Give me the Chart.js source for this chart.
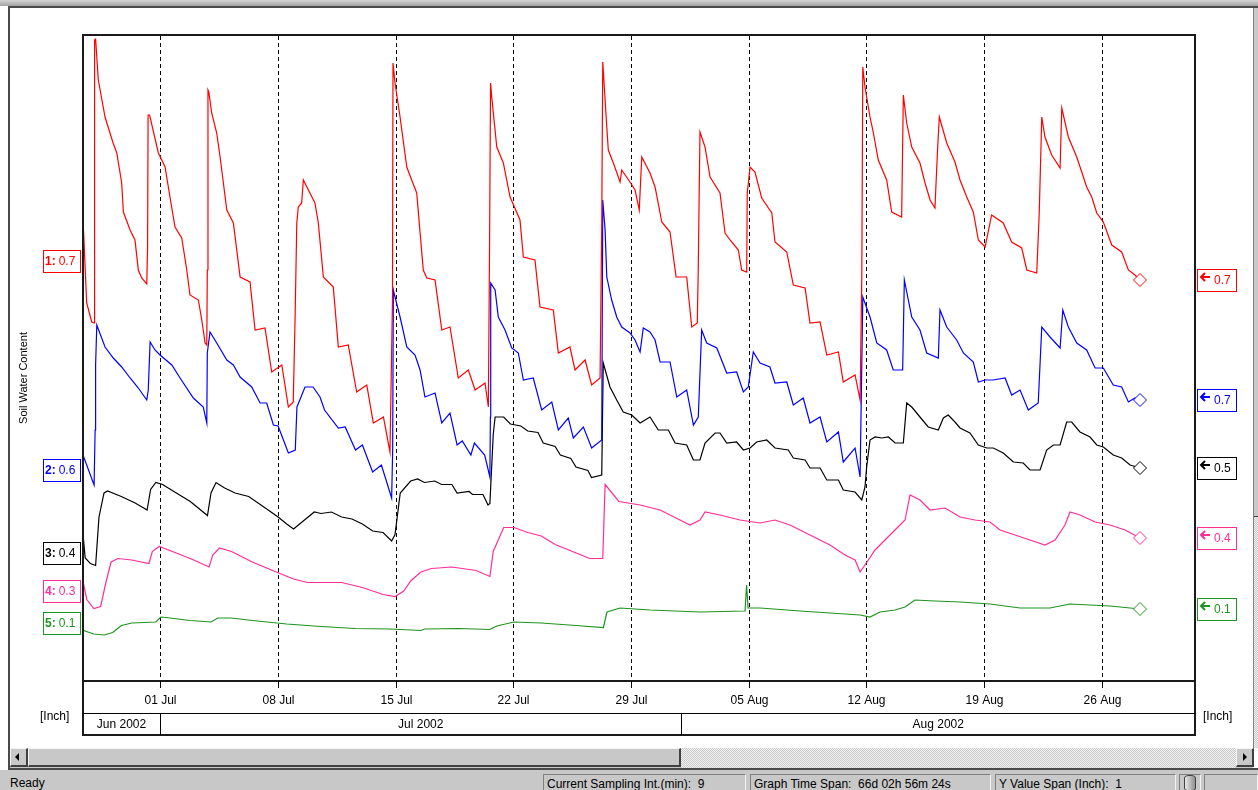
<!DOCTYPE html>
<html>
<head>
<meta charset="utf-8">
<title>Soil Water Content</title>
<script src="https://cdn.jsdelivr.net/npm/chart.js@4.4.1/dist/chart.umd.min.js"></script>
<style>
  html, body { margin: 0; padding: 0; }
  body { width: 1258px; height: 790px; position: relative; overflow: hidden; background: #fff;
         font: 12px "Liberation Sans", Arial, sans-serif; color: #000; }
  #top { position: absolute; left: 0; top: 0; width: 1258px; height: 6px; background: linear-gradient(#d6d6d6, #a2a2a2); }
  #topline { position: absolute; left: 9px; top: 6px; width: 1249px; height: 2px; background: #4a4a4a; }
  #leftline { position: absolute; left: 8px; top: 6px; width: 2px; height: 764px; background: #4a4a4a; }
  #vscroll { position: absolute; left: 1253px; top: 8px; width: 5px; height: 740px;
             background: repeating-conic-gradient(#c8c8c8 0 25%, #f4f4f4 0 50%) 0 0 / 2px 2px; border-left: 1px solid #808080; }
  #vthumb { position: absolute; left: 0; top: 0; width: 5px; height: 508px; background: #c8c8c8; border-bottom: 1px solid #404040; }
  #hscroll { position: absolute; left: 10px; top: 748px; width: 1243px; height: 20px; background: #c8c8c8; }
  .btn { position: absolute; top: 0; width: 15px; height: 16px; background: #c8c8c8;
         border-top: 1px solid #f4f4f4; border-left: 1px solid #f4f4f4; border-right: 2px solid #404040; border-bottom: 2px solid #404040; }
  #lb { left: 0; }
  #rb { left: 1226px; }
  .tri-l { position: absolute; left: 4px; top: 4px; width: 0; height: 0; border-top: 4px solid transparent; border-bottom: 4px solid transparent; border-right: 4px solid #000; }
  .tri-r { position: absolute; left: 6px; top: 4px; width: 0; height: 0; border-top: 4px solid transparent; border-bottom: 4px solid transparent; border-left: 4px solid #000; }
  #thumb { position: absolute; left: 18px; top: 0; width: 650px; height: 16px; background: #c8c8c8;
           border-top: 1px solid #f4f4f4; border-left: 1px solid #f4f4f4; border-right: 2px solid #404040; border-bottom: 2px solid #404040; }
  #track { position: absolute; left: 671px; top: 0; width: 555px; height: 20px;
           background: repeating-conic-gradient(#c8c8c8 0 25%, #f4f4f4 0 50%) 0 0 / 2px 2px; }
  #bottomline { position: absolute; left: 8px; top: 768px; width: 1250px; height: 2px; background: #4a4a4a; }
  #status { position: absolute; left: 0; top: 770px; width: 1258px; height: 20px; background: #c8c8c8; }
  #ready { position: absolute; left: 10px; top: 6px; }
  .panel { position: absolute; top: 4px; height: 18px; padding-left: 3px; line-height: 18px; white-space: pre;
           border-top: 1px solid #808080; border-left: 1px solid #808080; border-right: 1px solid #f4f4f4; box-sizing: border-box; }
  #db { position: absolute; left: 1184px; top: 5px; width: 10px; height: 14px; border: 1px solid #404040;
        border-radius: 5px / 3px; background: linear-gradient(90deg, #e8e8e8, #909090); }
  #chart { position: absolute; left: 0; top: 0; }
</style>
</head>
<body>
<div id="top"></div>
<div id="topline"></div>
<div id="leftline"></div>
<div id="vscroll"><div id="vthumb"></div></div>
<div id="hscroll">
  <div class="btn" id="lb"><span class="tri-l"></span></div>
  <div id="thumb"></div>
  <div id="track"></div>
  <div class="btn" id="rb"><span class="tri-r"></span></div>
</div>
<div id="bottomline"></div>
<div id="status">
  <span id="ready">Ready</span>
  <div class="panel" style="left:543px;width:203px">Current Sampling Int.(min):  9</div>
  <div class="panel" style="left:750px;width:241px">Graph Time Span:  66d 02h 56m 24s</div>
  <div class="panel" style="left:995px;width:181px">Y Value Span (Inch):  1</div>
  <div class="panel" style="left:1179px;width:22px"></div>
  <div id="db"></div>
  <div class="panel" style="left:1204px;width:54px"></div>
</div>
<canvas id="chart" width="1258" height="790"></canvas>
<script>
/* x = days since 01 Jul 2002, y = position inside the 1 inch display span */
const xMin = -4.58;
const xMax = 61.53;
const yMin = 0;
const yMax = 1.292;

const tickDays = [0, 7, 14, 21, 28, 35, 42, 49, 56];
const tickLabels = ['01 Jul', '08 Jul', '15 Jul', '22 Jul', '29 Jul', '05 Aug', '12 Aug', '19 Aug', '26 Aug'];
const monthEdges = [xMin, 0, 31, xMax];
const monthLabels = ['Jun 2002', 'Jul 2002', 'Aug 2002'];

const seriesNo = ['1', '2', '3', '4', '5'];
const startValues = ['0.7', '0.6', '0.4', '0.3', '0.1'];
const endValues = ['0.7', '0.7', '0.5', '0.4', '0.1'];
const colors = ['#ff0000', '#0000ff', '#000000', '#ff2d96', '#1f931f'];

const redDays = [-4.55,-4.36,-4.06,-3.92,-3.89,-3.83,-3.67,-3.27,-2.79,-2.57,
  -2.28,-2.18,-1.78,-1.49,-1.29,-1.09,-0.79,-0.74,-0.71,-0.62,
  -0.10,0.30,0.59,0.89,1.29,1.59,1.78,2.28,2.48,2.68,
  2.78,2.81,2.85,2.90,3.07,3.37,3.57,3.97,4.36,4.76,
  5.35,5.65,6.24,6.64,7.24,7.63,7.92,8.03,8.13,8.22,
  8.42,8.52,9.21,9.41,9.71,10.30,10.60,11.19,11.69,12.29,
  12.68,13.28,13.67,13.82,13.85,13.97,14.27,14.67,14.96,15.26,
  15.65,15.86,16.35,16.75,17.24,17.73,18.33,18.73,19.32,19.52,
  19.59,19.65,19.72,20.02,20.41,20.81,21.40,21.60,22.29,22.59,
  23.38,23.68,24.37,24.67,25.27,25.66,26.16,26.26,26.32,26.56,
  26.65,26.95,27.35,27.45,27.94,28.24,28.49,28.64,29.13,29.43,
  29.83,30.32,30.68,31.31,31.61,31.94,32.00,32.10,32.40,32.70,
  33.29,33.59,33.89,34.38,34.58,34.88,34.91,35.08,35.37,35.77,
  36.37,36.56,37.26,37.65,38.35,38.64,39.24,39.64,40.33,40.62,
  41.32,41.62,41.72,41.78,41.91,42.21,42.41,42.70,43.20,43.50,
  44.09,44.19,44.39,44.69,45.18,45.48,45.78,46.07,46.21,46.33,
  46.77,47.26,47.56,47.96,48.35,48.65,49.05,49.44,50.13,50.63,
  51.23,51.53,52.12,52.27,52.42,52.61,53.01,53.51,53.61,54.00,
  54.50,55.09,55.39,55.69,56.08,56.58,57.17,57.57,57.96,58.26];
const redVals = [0.902,0.756,0.718,0.716,1.282,1.284,1.202,1.128,1.076,1.056,
  0.996,0.938,0.902,0.882,0.822,0.806,0.794,0.868,1.132,1.132,
  1.056,1.028,0.968,0.908,0.886,0.822,0.772,0.762,0.722,0.676,
  0.672,0.822,1.182,1.178,1.136,1.096,1.048,0.942,0.916,0.808,
  0.798,0.702,0.706,0.618,0.632,0.548,0.558,0.728,0.916,0.948,
  0.956,1.002,0.956,0.916,0.808,0.788,0.668,0.672,0.578,0.592,
  0.516,0.528,0.458,0.762,1.236,1.196,1.128,1.028,1.002,0.976,
  0.822,0.806,0.802,0.702,0.708,0.606,0.622,0.582,0.596,0.548,
  0.868,1.196,1.168,1.068,1.036,0.968,0.922,0.848,0.842,0.748,
  0.742,0.656,0.668,0.622,0.642,0.592,0.606,0.912,1.238,1.108,
  1.062,1.036,0.998,1.022,0.998,0.982,0.942,1.048,1.016,0.988,
  0.918,0.898,0.808,0.808,0.708,0.716,0.828,1.098,1.068,1.008,
  0.976,0.896,0.882,0.862,0.822,0.818,0.976,1.028,1.018,0.966,
  0.936,0.878,0.858,0.792,0.786,0.716,0.718,0.652,0.658,0.598,
  0.612,0.562,0.808,1.228,1.188,1.128,1.096,1.042,1.002,0.938,
  0.928,1.172,1.116,1.068,1.036,0.996,0.962,0.946,1.052,1.128,
  1.076,1.038,1.002,0.968,0.938,0.882,0.868,0.932,0.916,0.878,
  0.866,0.822,0.816,0.936,1.128,1.088,1.052,1.026,1.146,1.088,
  1.048,0.988,0.968,0.936,0.918,0.872,0.858,0.822,0.812,0.802];

const blueDays = [-4.55,-3.92,-3.86,-3.83,-3.76,-3.27,-2.78,-2.28,-1.78,-1.29,
  -0.79,-0.70,-0.59,-0.30,0,0.70,1.19,1.98,2.57,2.78,
  2.81,2.97,3.37,3.97,4.36,4.76,5.45,5.95,6.34,6.74,
  7.02,7.63,8.04,8.14,8.62,9.10,9.51,9.78,10.60,11.01,
  11.62,12.03,12.64,13.16,13.77,13.83,13.87,13.97,14.27,14.67,
  15.16,15.46,15.75,16.35,16.75,17.24,17.66,17.97,18.48,18.69,
  19.30,19.61,19.64,19.66,19.92,20.11,20.51,20.91,21.30,21.60,
  22.19,22.69,23.29,23.68,24.27,24.57,25.17,25.66,26.26,26.32,
  26.46,26.56,26.85,27.15,27.45,27.94,28.24,28.54,28.73,29.13,
  29.43,29.73,30.32,30.72,31.31,31.71,32.00,32.20,32.50,33.10,
  33.69,34.28,34.68,34.97,35.27,35.67,36.26,36.56,37.26,37.65,
  38.24,38.64,39.24,39.64,40.33,40.62,41.32,41.62,41.78,42.21,
  42.61,43.20,43.59,44.15,44.25,44.69,45.18,45.58,46.27,46.37,
  46.77,47.36,47.76,48.35,48.65,49.05,49.54,50.24,50.63,51.13,
  51.62,52.21,52.42,52.91,53.51,53.67,54.00,54.50,55.09,55.59,
  56.08,56.67,57.17,57.57,57.96,58.26];
const blueVals = [0.449,0.392,0.502,0.632,0.712,0.668,0.646,0.628,0.606,0.586,
  0.562,0.582,0.678,0.662,0.652,0.632,0.606,0.566,0.548,0.516,
  0.656,0.698,0.676,0.642,0.632,0.608,0.588,0.556,0.556,0.512,
  0.510,0.456,0.462,0.548,0.588,0.588,0.568,0.542,0.506,0.508,
  0.462,0.472,0.418,0.432,0.366,0.462,0.782,0.768,0.728,0.668,
  0.652,0.622,0.568,0.576,0.516,0.536,0.472,0.480,0.452,0.476,
  0.452,0.408,0.528,0.796,0.782,0.728,0.702,0.666,0.656,0.602,
  0.606,0.542,0.558,0.502,0.526,0.486,0.508,0.466,0.482,0.962,
  0.902,0.808,0.762,0.728,0.708,0.696,0.682,0.658,0.706,0.698,
  0.682,0.638,0.638,0.568,0.582,0.512,0.528,0.702,0.676,0.666,
  0.616,0.618,0.578,0.588,0.658,0.636,0.628,0.596,0.598,0.552,
  0.566,0.516,0.528,0.478,0.498,0.438,0.466,0.408,0.768,0.728,
  0.676,0.662,0.622,0.622,0.802,0.728,0.702,0.656,0.646,0.742,
  0.708,0.682,0.656,0.638,0.598,0.602,0.602,0.606,0.572,0.582,
  0.542,0.556,0.708,0.688,0.666,0.742,0.708,0.676,0.662,0.626,
  0.626,0.592,0.588,0.558,0.566,0.562];

const blackDays = [-4.55,-4.45,-4.14,-3.83,-3.63,-3.33,-3.12,-2.30,-1.48,-0.77,
  -0.56,-0.25,0.15,0.97,1.80,2.82,3.03,3.33,3.84,4.46,
  5.27,6.30,7.02,7.53,7.94,8.55,9.17,9.57,10.19,10.80,
  11.41,12.03,12.64,13.26,13.77,13.97,14.28,14.90,15.31,15.72,
  16.33,16.74,17.35,17.66,18.37,18.58,19.20,19.50,19.61,19.81,
  19.92,20.43,20.83,21.45,21.86,22.47,22.78,23.49,23.80,24.42,
  24.73,25.44,25.65,26.26,26.35,26.75,27.15,27.54,28.04,28.54,
  29.13,29.62,30.22,30.62,31.31,31.71,32.10,32.40,33.00,33.29,
  33.69,34.28,34.68,35.08,35.47,36.07,36.56,37.35,37.65,38.35,
  38.64,39.24,39.64,40.33,40.62,41.32,41.72,41.91,42.01,42.21,
  42.51,42.90,43.30,43.70,44.19,44.39,44.69,45.18,45.67,46.27,
  46.57,46.86,47.26,47.56,48.15,48.65,49.15,49.54,50.13,50.73,
  51.32,51.72,52.32,52.71,53.11,53.51,53.90,54.20,54.69,55.29,
  55.69,56.08,56.67,57.17,57.67,58.26];
const blackVals = [0.283,0.246,0.235,0.231,0.328,0.376,0.380,0.369,0.356,0.342,
  0.383,0.397,0.393,0.376,0.359,0.331,0.376,0.397,0.386,0.376,
  0.369,0.345,0.328,0.314,0.304,0.321,0.338,0.335,0.338,0.328,
  0.324,0.314,0.300,0.297,0.280,0.293,0.376,0.400,0.404,0.397,
  0.400,0.393,0.393,0.376,0.379,0.373,0.373,0.352,0.355,0.493,
  0.528,0.528,0.514,0.510,0.500,0.497,0.476,0.469,0.452,0.445,
  0.428,0.421,0.407,0.412,0.636,0.588,0.562,0.538,0.532,0.516,
  0.528,0.502,0.502,0.476,0.472,0.442,0.442,0.476,0.496,0.496,
  0.476,0.478,0.462,0.466,0.478,0.482,0.466,0.462,0.446,0.442,
  0.426,0.426,0.402,0.402,0.382,0.378,0.362,0.388,0.428,0.482,
  0.488,0.486,0.488,0.476,0.476,0.556,0.548,0.528,0.508,0.502,
  0.526,0.532,0.518,0.506,0.496,0.472,0.466,0.466,0.456,0.438,
  0.436,0.422,0.422,0.462,0.472,0.472,0.518,0.518,0.498,0.488,
  0.472,0.468,0.452,0.446,0.432,0.426];

const pinkDays = [-4.55,-4.35,-3.94,-3.53,-3.22,-2.91,-2.50,-1.68,-0.66,-0.46,
  -0.05,0.97,2.00,2.92,3.13,3.54,4.25,5.48,6.91,7.94,
  8.76,10.80,12.03,13.26,13.97,14.49,14.90,15.51,16.13,17.35,
  18.79,19.61,19.81,20.43,21.04,21.86,22.67,23.49,24.52,25.54,
  26.32,26.46,27.28,28.54,29.73,30.91,31.51,32.10,32.40,33.29,
  34.48,35.67,36.56,37.45,38.64,39.83,40.72,41.32,41.62,41.91,
  42.51,43.10,43.99,44.29,44.59,45.18,45.78,46.67,47.56,48.45,
  49.34,49.94,50.83,51.72,52.61,53.21,53.80,54.10,54.69,55.59,
  56.48,57.37,58.26];
const pinkVals = [0.194,0.163,0.145,0.149,0.197,0.238,0.245,0.242,0.235,0.259,
  0.269,0.256,0.242,0.228,0.252,0.266,0.259,0.238,0.218,0.204,
  0.197,0.197,0.187,0.173,0.169,0.180,0.200,0.218,0.225,0.228,
  0.221,0.209,0.259,0.307,0.307,0.297,0.290,0.273,0.259,0.245,
  0.245,0.393,0.359,0.352,0.342,0.322,0.312,0.322,0.338,0.332,
  0.322,0.316,0.322,0.312,0.292,0.272,0.252,0.242,0.218,0.232,
  0.262,0.282,0.312,0.322,0.372,0.362,0.342,0.346,0.328,0.322,
  0.318,0.302,0.292,0.282,0.272,0.282,0.312,0.338,0.332,0.318,
  0.312,0.302,0.286];

const greenDays = [-4.55,-3.94,-3.32,-2.81,-2.30,-1.68,-0.25,0.05,0.36,1.78,
  3.03,3.43,4.25,5.48,7.53,9.57,11.62,13.67,15.51,15.72,
  17.76,19.61,20.02,21.04,22.67,24.73,26.36,26.57,27.35,29.13,
  32.10,34.78,34.87,34.96,35.67,38.05,39.83,41.62,42.21,42.80,
  43.70,44.29,44.88,46.07,47.56,49.34,51.13,52.91,54.10,55.29,
  56.48,57.67,58.26];
const greenVals = [0.101,0.094,0.092,0.097,0.111,0.116,0.118,0.128,0.127,0.121,
  0.118,0.126,0.126,0.121,0.114,0.109,0.105,0.104,0.101,0.104,
  0.105,0.103,0.110,0.118,0.116,0.111,0.107,0.138,0.146,0.142,
  0.138,0.140,0.192,0.146,0.146,0.140,0.136,0.132,0.128,0.138,
  0.142,0.148,0.162,0.160,0.158,0.154,0.146,0.146,0.154,0.152,
  0.150,0.146,0.144];

/* layout (pixels) */
const leftTagTop = [250, 459, 542, 580, 612];
const FONT = '"Liberation Sans", Arial, sans-serif';

const allDays = [redDays, blueDays, blackDays, pinkDays, greenDays];
const allVals = [redVals, blueVals, blackVals, pinkVals, greenVals];

function toPoints(days, vals) {
  return days.map((d, i) => ({ x: d, y: vals[i] }));
}

function drawBox(ctx, x, y, w, h, color) {
  ctx.fillStyle = '#fff';
  ctx.fillRect(x, y, w, h);
  ctx.strokeStyle = color;
  ctx.lineWidth = 1;
  ctx.setLineDash([]);
  ctx.strokeRect(x + 0.5, y + 0.5, w - 1, h - 1);
}

const chrome = {
  id: 'chrome',
  beforeDatasetsDraw(chart) {
    const { ctx, chartArea: a, scales: { x } } = chart;
    ctx.save();
    ctx.strokeStyle = '#000';
    ctx.lineWidth = 1;
    ctx.setLineDash([4, 3]);
    tickDays.forEach(d => {
      const px = Math.round(x.getPixelForValue(d)) + 0.5;
      ctx.beginPath();
      ctx.moveTo(px, a.top + 1);
      ctx.lineTo(px, a.bottom);
      ctx.stroke();
    });
    ctx.restore();
  },
  afterDraw(chart) {
    const { ctx, chartArea: a, scales: { x, y } } = chart;
    const midY = a.bottom + 32;
    const botY = a.bottom + 54;
    ctx.save();

    // frame and axis rows
    ctx.strokeStyle = '#1a1a1a';
    ctx.lineWidth = 2;
    ctx.strokeRect(a.left, a.top, a.right - a.left, botY - a.top);
    ctx.beginPath();
    ctx.moveTo(a.left, a.bottom); ctx.lineTo(a.right, a.bottom);
    ctx.stroke();
    ctx.lineWidth = 1;
    ctx.strokeStyle = '#000';
    ctx.beginPath();
    ctx.moveTo(a.left, midY + 0.5); ctx.lineTo(a.right, midY + 0.5);
    ctx.stroke();

    // ticks and day labels
    ctx.font = '12px ' + FONT;
    ctx.fillStyle = '#000';
    ctx.textAlign = 'center';
    ctx.textBaseline = 'middle';
    tickDays.forEach((d, i) => {
      const px = Math.round(x.getPixelForValue(d)) + 0.5;
      ctx.beginPath();
      ctx.moveTo(px, a.bottom); ctx.lineTo(px, a.bottom + 7);
      ctx.stroke();
      ctx.fillText(tickLabels[i], px, a.bottom + 20);
    });

    // month row
    monthLabels.forEach((m, i) => {
      const x0 = Math.max(x.getPixelForValue(monthEdges[i]), a.left);
      const x1 = Math.min(x.getPixelForValue(monthEdges[i + 1]), a.right);
      if (i > 0) {
        const px = Math.round(x0) + 0.5;
        ctx.beginPath();
        ctx.moveTo(px, midY); ctx.lineTo(px, botY);
        ctx.stroke();
      }
      ctx.fillText(m, (x0 + x1) / 2, midY + 12);
    });

    // unit labels
    ctx.textAlign = 'left';
    ctx.fillText('[Inch]', 40, midY + 4);
    ctx.fillText('[Inch]', a.right + 8, midY + 4);

    // axis title
    ctx.save();
    ctx.translate(24, 378);
    ctx.rotate(-Math.PI / 2);
    ctx.textAlign = 'center';
    ctx.font = '11px ' + FONT;
    ctx.fillText('Soil Water Content', 0, 0);
    ctx.restore();

    // left tags: series number and start value
    seriesNo.forEach((n, i) => {
      const top = leftTagTop[i];
      drawBox(ctx, 43, top, 38, 23, colors[i]);
      ctx.fillStyle = colors[i];
      ctx.textAlign = 'left';
      ctx.font = 'bold 12px ' + FONT;
      const lbl = n + ':';
      ctx.fillText(lbl, 45, top + 12);
      const w = ctx.measureText(lbl).width;
      ctx.font = '12px ' + FONT;
      ctx.fillText(startValues[i], 45 + w + 3, top + 12);
    });

    // right tags: arrow and end value, level with last point
    endValues.forEach((v, i) => {
      const vals = allVals[i];
      const cy = Math.round(y.getPixelForValue(vals[vals.length - 1]));
      const top = cy - 11;
      drawBox(ctx, a.right + 2, top, 40, 23, colors[i]);
      ctx.strokeStyle = colors[i];
      ctx.lineWidth = 2;
      const ay = cy - 3;
      ctx.beginPath();
      ctx.moveTo(a.right + 15, ay); ctx.lineTo(a.right + 6, ay);
      ctx.moveTo(a.right + 10, ay - 4); ctx.lineTo(a.right + 6, ay); ctx.lineTo(a.right + 10, ay + 4);
      ctx.stroke();
      ctx.fillStyle = colors[i];
      ctx.font = '12px ' + FONT;
      ctx.textAlign = 'left';
      ctx.fillText(v, a.right + 19, cy + 1);
    });

    ctx.restore();
  }
};

const datasets = allDays.map((days, i) => ({
  label: seriesNo[i],
  data: toPoints(days, allVals[i]),
  borderColor: colors[i],
  borderWidth: 1.2,
  backgroundColor: '#fff',
  pointBackgroundColor: '#fff',
  pointBorderColor: colors[i],
  pointBorderWidth: 1,
  pointStyle: 'rectRot',
  pointRadius: ctx => (ctx.dataIndex === days.length - 1 ? 6.5 : 0),
  tension: 0,
  fill: false
}));

new Chart(document.getElementById('chart'), {
  type: 'line',
  data: { datasets: datasets },
  options: {
    responsive: false,
    animation: false,
    events: [],
    layout: { padding: { left: 83, top: 35, right: 63, bottom: 109 } },
    plugins: { legend: { display: false }, tooltip: { enabled: false } },
    scales: {
      x: { type: 'linear', min: xMin, max: xMax, display: false },
      y: { min: yMin, max: yMax, display: false }
    }
  },
  plugins: [chrome]
});
</script>
</body>
</html>
